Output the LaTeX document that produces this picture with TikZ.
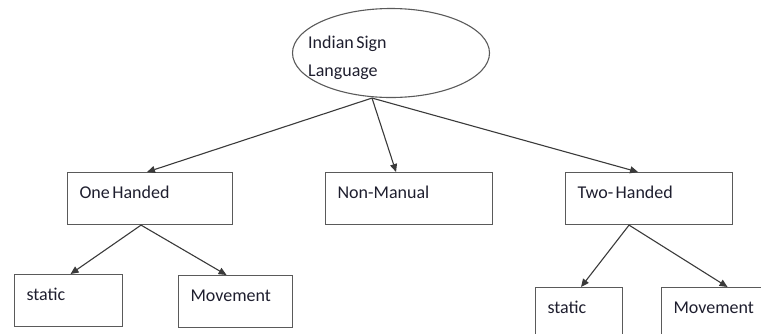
\documentclass[tikz,border=0pt]{standalone}
\usepackage{fontspec}
\setmainfont{Carlito}[WordSpace=0.6]
\usetikzlibrary{positioning, calc, shapes.geometric, arrows.meta}
\definecolor{linegray}{HTML}{3A3A3A}
\definecolor{boxgray}{HTML}{5A5A5A}
\definecolor{txtcol}{HTML}{1E1E2E}
\begin{document}
\begin{tikzpicture}[x=1pt, y=-1pt,
	catbox/.style={draw=boxgray, line width=1.1pt, anchor=north west, inner xsep=12pt, inner ysep=0pt, text height=26pt, text depth=26pt, align=flush left, text width=#1, text=txtcol, font=\fontsize{18}{21}\selectfont},
	link/.style={draw=linegray, line width=1.1pt, -{Triangle[width=7pt,length=8pt]}}]
			\clip (0,0) rectangle (761,333);
			\node (root) [ellipse, draw=boxgray, line width=1.1pt, minimum width=197pt, minimum height=89pt, inner sep=0pt] at (391,53) {};
			\node (roottxt) [anchor=base west, inner sep=0pt, align=left, text=txtcol, font=\fontsize{18}{28}\selectfont] at (308,76) {Indian Sign\\Language};
			
			\node (oneh) [catbox=141pt] at (67,172) {One Handed};
			\node (nonman) [catbox=143pt] at (325,172) {Non-Manual};
			\node (twoh) [catbox=143pt] at (565,172) {Two- Handed};
			
			\node (stat1) [catbox=84pt] at (14,274) {static};
			\node (move1) [catbox=90pt] at (178,275) {Movement};
			\node (stat2) [catbox=63pt] at (535,287) {static};
			\node (move2) [catbox=90pt] at (661,287) {Movement};
			
			\draw [link] ([xshift=-19pt]root.south) -- ([xshift=-3pt]oneh.north);
			\draw [link] ([xshift=-19pt]root.south) -- ([xshift=-13pt]nonman.north);
			\draw [link] ([xshift=-19pt]root.south) -- ([xshift=-11pt]twoh.north);
			
			\draw [link] ([xshift=-9pt]oneh.south) -- ([xshift=2pt]stat1.north);
			\draw [link] ([xshift=-9pt]oneh.south) -- ([xshift=-9pt]move1.north);
			\draw [link] ([xshift=-20pt]twoh.south) -- ([xshift=2pt]stat2.north);
			\draw [link] ([xshift=-20pt]twoh.south) -- ([xshift=9pt]move2.north);
		\end{tikzpicture}
\end{document}
